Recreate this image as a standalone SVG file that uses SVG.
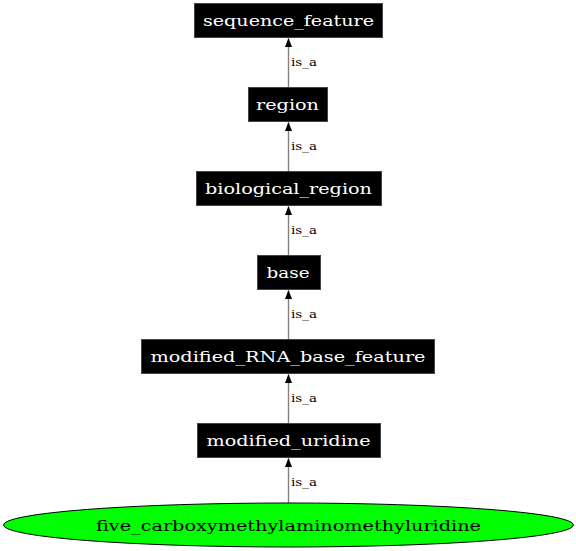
<svg xmlns="http://www.w3.org/2000/svg" width="576" height="551" viewBox="0 0 576 551">
<style>
.box{fill:#000;stroke:#444;stroke-width:1}
.nt{font-family:"DejaVu Serif",serif;font-size:15.5px;fill:#fff;text-anchor:middle}
.et{font-family:"DejaVu Serif",serif;font-size:11px;fill:#000}
.edge{stroke:#808080;stroke-width:1.4;fill:none}
</style>
<defs>
<marker id="ah" markerWidth="8" markerHeight="10" refX="9" refY="5" orient="auto" markerUnits="userSpaceOnUse">
<path d="M0,1.5 L9,5 L0,8.5 Z" fill="#000"/>
</marker>
</defs>
<rect width="576" height="551" fill="#fff"/>
<g id="connectors">
<line class="edge" x1="288.5" y1="87" x2="288.5" y2="38" marker-end="url(#ah)"/>
<text class="et" x="291" y="66" textLength="26" lengthAdjust="spacingAndGlyphs">is_a</text>
<line class="edge" x1="288.5" y1="171" x2="288.5" y2="122" marker-end="url(#ah)"/>
<text class="et" x="291" y="150" textLength="26" lengthAdjust="spacingAndGlyphs">is_a</text>
<line class="edge" x1="288.5" y1="255" x2="288.5" y2="206" marker-end="url(#ah)"/>
<text class="et" x="291" y="234" textLength="26" lengthAdjust="spacingAndGlyphs">is_a</text>
<line class="edge" x1="288.5" y1="339" x2="288.5" y2="290" marker-end="url(#ah)"/>
<text class="et" x="291" y="318" textLength="26" lengthAdjust="spacingAndGlyphs">is_a</text>
<line class="edge" x1="288.5" y1="423" x2="288.5" y2="374" marker-end="url(#ah)"/>
<text class="et" x="291" y="402" textLength="26" lengthAdjust="spacingAndGlyphs">is_a</text>
<line class="edge" x1="288.5" y1="503" x2="288.5" y2="458" marker-end="url(#ah)"/>
<text class="et" x="291" y="486" textLength="26" lengthAdjust="spacingAndGlyphs">is_a</text>
</g>
<g id="sequence_feature">
<rect class="box" x="194.5" y="3.5" width="188" height="34"/>
<text class="nt" x="288.5" y="26" textLength="171" lengthAdjust="spacingAndGlyphs">sequence_feature</text>
</g>
<g id="region">
<rect class="box" x="248.5" y="87.5" width="79" height="34"/>
<text class="nt" x="287.5" y="110" textLength="63" lengthAdjust="spacingAndGlyphs">region</text>
</g>
<g id="biological_region">
<rect class="box" x="196.5" y="171.5" width="185" height="34"/>
<text class="nt" x="288.5" y="194" textLength="167" lengthAdjust="spacingAndGlyphs">biological_region</text>
</g>
<g id="base">
<rect class="box" x="257.5" y="255.5" width="63" height="34"/>
<text class="nt" x="288" y="278" textLength="43" lengthAdjust="spacingAndGlyphs">base</text>
</g>
<g id="modified_RNA_base_feature">
<rect class="box" x="141.5" y="339.5" width="293" height="34"/>
<text class="nt" x="288" y="362" textLength="275" lengthAdjust="spacingAndGlyphs">modified_RNA_base_feature</text>
</g>
<g id="modified_uridine">
<rect class="box" x="197.5" y="423.5" width="183" height="34"/>
<text class="nt" x="288.5" y="446" textLength="164" lengthAdjust="spacingAndGlyphs">modified_uridine</text>
</g>
<g id="five_carboxymethylaminomethyluridine">
<ellipse cx="288.5" cy="525" rx="285" ry="22" fill="#00ff00" stroke="#000" stroke-width="1"/>
<text class="nt" x="288.5" y="530.5" textLength="385" lengthAdjust="spacingAndGlyphs" style="fill:#000">five_carboxymethylaminomethyluridine</text>
</g>
</svg>
